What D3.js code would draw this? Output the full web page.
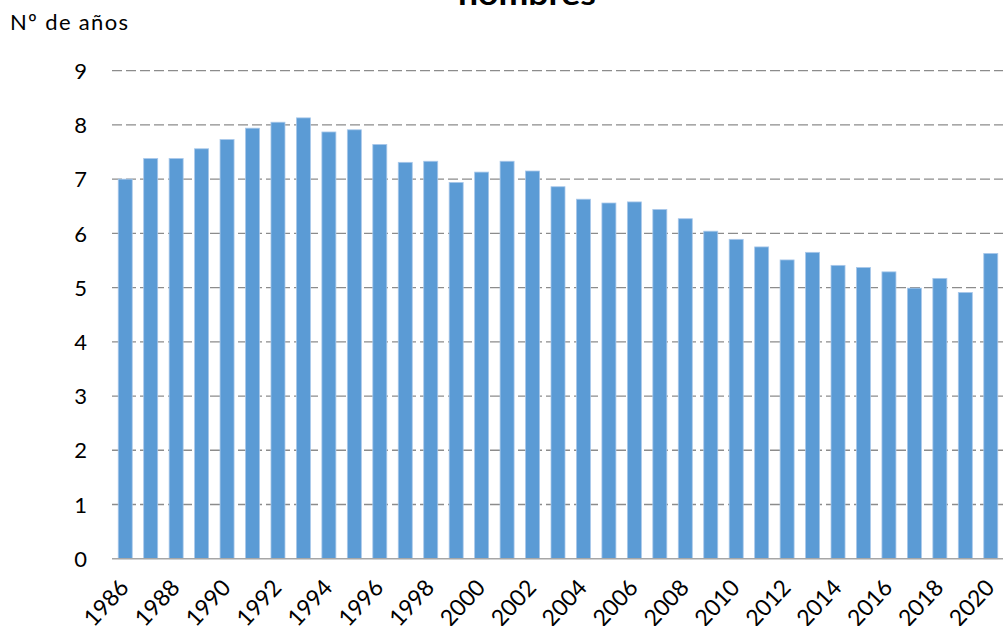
<!DOCTYPE html>
<html><head><meta charset="utf-8">
<script src="https://cdn.jsdelivr.net/npm/d3@7"></script>
<style>body{margin:0;background:#fff}svg{display:block}</style>
</head><body>
<svg id="c" width="1003" height="626"></svg>
<script>
const years = d3.range(1986, 2021);
const values = [7.00,7.38,7.38,7.56,7.73,7.94,8.05,8.13,7.87,7.91,7.64,7.31,7.33,6.94,7.13,7.33,7.15,6.86,6.63,6.56,6.58,6.44,6.27,6.04,5.89,5.75,5.51,5.65,5.41,5.37,5.29,4.99,5.17,4.91,5.63];
const yTicks = [0,1,2,3,4,5,6,7,8,9];
const xTickLabels = years.filter(y => y % 2 === 0);
const title = "hombres";
const yTitle = "Nº de años";

const svg = d3.select("#c");
const font = "Lato, 'Open Sans', sans-serif";
const x = d3.scaleBand().domain(years).range([112.5, 1003.5]).paddingInner(0.45).paddingOuter(0.225);
const y = d3.scaleLinear().domain([0, 9]).range([558.7, 70.7]);

// gridlines
svg.append("g").selectAll("line").data(yTicks.filter(t => t > 0)).join("line")
  .attr("x1", 112).attr("x2", 1003)
  .attr("y1", d => y(d)).attr("y2", d => y(d))
  .attr("stroke", "#8c8c8c").attr("stroke-width", 1.3).attr("stroke-dasharray", "10,4");

// bars
svg.append("g").selectAll("rect").data(values).join("rect")
  .attr("x", (d, i) => x(years[i]))
  .attr("width", x.bandwidth())
  .attr("y", d => y(d))
  .attr("height", d => y(0) - y(d))
  .attr("fill", "#5b9bd5")
  .attr("stroke", "#a9c8ea").attr("stroke-width", 0.8);

// x axis line
svg.append("line").attr("x1", 112).attr("x2", 1003).attr("y1", y(0)).attr("y2", y(0))
  .attr("stroke", "#a6a6a6").attr("stroke-width", 1.5);

// y axis labels
const yAxis = d3.axisLeft(y).tickValues(yTicks).tickSize(0).tickPadding(0);
const gy = svg.append("g").attr("transform", "translate(87,0)").call(yAxis);
gy.select(".domain").remove();
gy.selectAll("text").attr("font-family", font).attr("font-size", 22).attr("fill", "#000").attr("dy", "0.35em");

// x axis labels
const xAxis = d3.axisBottom(x).tickValues(xTickLabels).tickSize(0).tickPadding(0);
const gx = svg.append("g").attr("transform", `translate(0,${y(0)})`).call(xAxis);
gx.select(".domain").remove();
gx.selectAll("text")
  .attr("font-family", font).attr("font-size", 23).attr("fill", "#000")
  .attr("text-anchor", "end").attr("dy", null).attr("y", 0)
  .attr("transform", "translate(5,30) rotate(-47)");

// titles
svg.append("text").attr("x", 527).attr("y", 5).attr("text-anchor", "middle")
  .attr("font-family", font).attr("font-weight", "bold").attr("font-size", 31)
  .attr("textLength", 138).attr("lengthAdjust", "spacingAndGlyphs")
  .text(title);
svg.append("text").attr("x", 10).attr("y", 30)
  .attr("font-family", font).attr("font-size", 22)
  .attr("textLength", 118).attr("lengthAdjust", "spacing")
  .text(yTitle);
</script>
</body></html>
